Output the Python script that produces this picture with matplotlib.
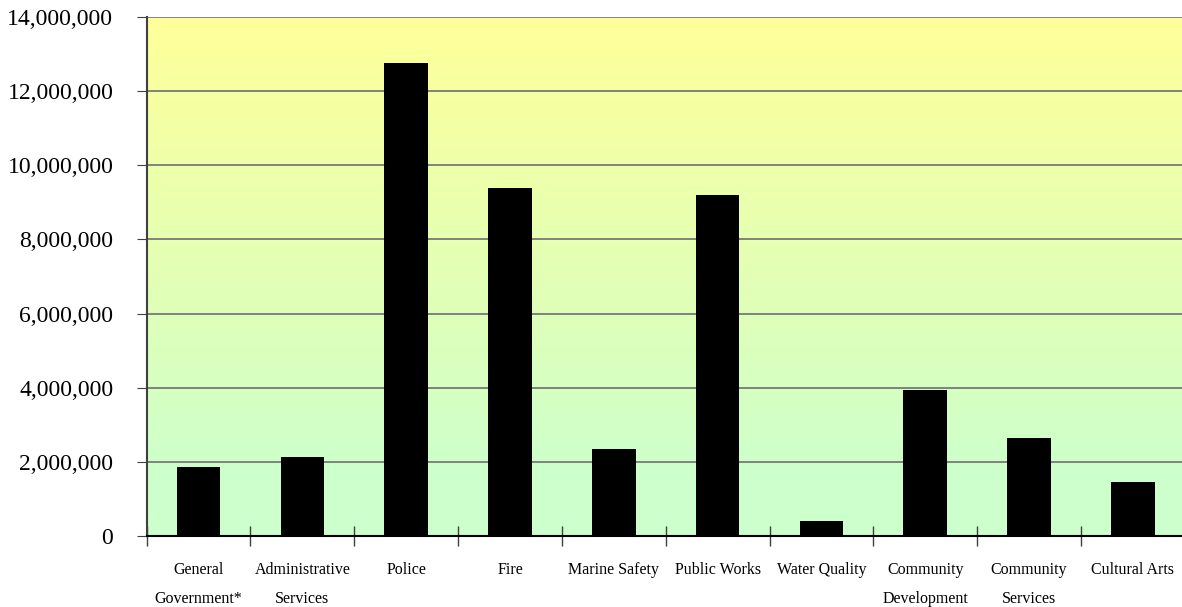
import numpy as np
import matplotlib.pyplot as plt
from matplotlib.colors import LinearSegmentedColormap

departments = ["General\nGovernment*", "Administrative\nServices", "Police", "Fire",
               "Marine Safety", "Public Works", "Water Quality", "Community\nDevelopment",
               "Community\nServices", "Cultural Arts"]
amounts = [1865000, 2135000, 12760000, 9390000, 2330000, 9200000, 405000,
           3935000, 2640000, 1450000]
y_ticks = [0, 2000000, 4000000, 6000000, 8000000, 10000000, 12000000, 14000000]

plt.rcParams['font.family'] = ['Liberation Serif', 'DejaVu Serif']

fig = plt.figure(figsize=(11.82, 6.07), dpi=100)
ax = fig.add_axes([0.1241, 0.1175, 0.8782, 0.854])

x = np.arange(len(departments))

#background gradient green (bottom) -> yellow (top)
cmap = LinearSegmentedColormap.from_list("bg", [(0, "#ccffcc"), (0.1, "#ccffcc"), (1, "#ffff99")])
grad = np.linspace(0, 1, 256).reshape(-1, 1)
ax.imshow(grad, cmap=cmap, aspect="auto", origin="lower",
          extent=[-0.5, len(departments) - 0.5, 0, 14000000], zorder=0)

ax.bar(x, amounts, width=0.42, color="black", zorder=3)

ax.set_xlim(-0.5, len(departments) - 0.5)
ax.set_ylim(0, 14000000)
ax.set_yticks(y_ticks)
ax.set_yticklabels([f"{v:,}" for v in y_ticks], fontsize=17)
ax.yaxis.grid(True, color="#787878", linewidth=1.3, zorder=1)

ax.set_xticks(x)
ax.set_xticklabels(departments, fontsize=11.5, linespacing=2.1, va="top")
ax.set_xticks(np.arange(len(departments) + 1) - 0.5, minor=True)
ax.tick_params(axis="x", which="major", length=0, pad=19)
ax.tick_params(axis="x", which="minor", direction="inout", length=14, color="#404040", width=1)
ax.tick_params(axis="y", which="major", length=7, color="#404040", pad=17)

for side in ["top", "right"]:
    ax.spines[side].set_visible(False)
ax.spines["left"].set_color("#404040")
ax.spines["left"].set_linewidth(1.5)
ax.spines["bottom"].set_color("black")
ax.spines["bottom"].set_linewidth(1.5)

fig.savefig("out.png", dpi=100)
